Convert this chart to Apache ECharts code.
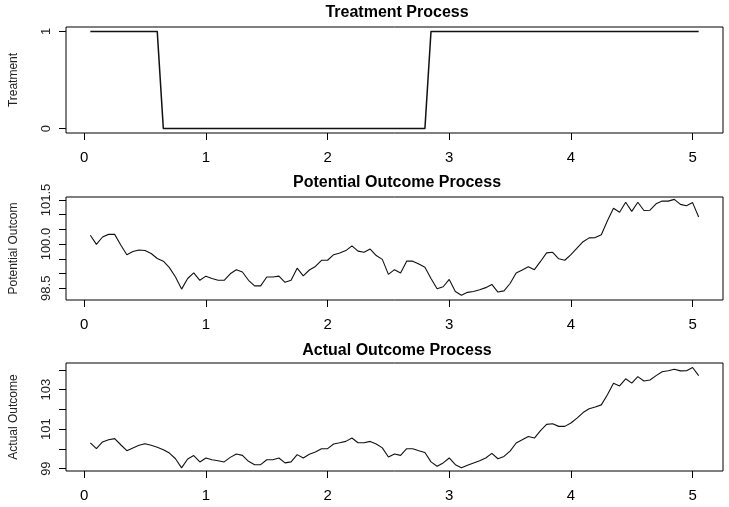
<!DOCTYPE html>
<html>
<head>
<meta charset="utf-8">
<script src="https://cdn.jsdelivr.net/npm/echarts@6/dist/echarts.min.js"></script>
<style>
html,body{margin:0;padding:0;background:#fff;}
#chart{width:729px;height:507px;}
</style>
</head>
<body>
<div id="chart"></div>
<script>
const times = [0.05,0.10,0.15,0.20,0.25,0.30,0.35,0.40,0.45,0.50,0.55,0.60,0.65,0.70,0.75,0.80,0.85,0.90,0.95,1.00,
1.05,1.10,1.15,1.20,1.25,1.30,1.35,1.40,1.45,1.50,1.55,1.60,1.65,1.70,1.75,1.80,1.85,1.90,1.95,2.00,
2.05,2.10,2.15,2.20,2.25,2.30,2.35,2.40,2.45,2.50,2.55,2.60,2.65,2.70,2.75,2.80,2.85,2.90,2.95,3.00,
3.05,3.10,3.15,3.20,3.25,3.30,3.35,3.40,3.45,3.50,3.55,3.60,3.65,3.70,3.75,3.80,3.85,3.90,3.95,4.00,
4.05,4.10,4.15,4.20,4.25,4.30,4.35,4.40,4.45,4.50,4.55,4.60,4.65,4.70,4.75,4.80,4.85,4.90,4.95,5.00,5.05];

const treatment = [1,1,1,1,1,1,1,1,1,1,1,1,0,0,0,0,0,0,0,0,
0,0,0,0,0,0,0,0,0,0,0,0,0,0,0,0,0,0,0,0,
0,0,0,0,0,0,0,0,0,0,0,0,0,0,0,0,1,1,1,1,
1,1,1,1,1,1,1,1,1,1,1,1,1,1,1,1,1,1,1,1,
1,1,1,1,1,1,1,1,1,1,1,1,1,1,1,1,1,1,1,1,1];

const potential = [100.30,99.99,100.24,100.33,100.33,99.97,99.64,99.75,99.80,99.78,99.68,99.51,99.42,99.20,98.88,98.47,98.83,99.02,98.77,98.91,
98.83,98.77,98.77,98.99,99.13,99.05,98.77,98.58,98.58,98.88,98.88,98.91,98.70,98.77,99.18,98.92,99.12,99.24,99.45,99.45,
99.64,99.70,99.78,99.94,99.76,99.72,99.83,99.61,99.48,98.97,99.13,99.02,99.42,99.42,99.32,99.21,98.83,98.48,98.55,98.80,
98.39,98.26,98.36,98.39,98.45,98.52,98.63,98.37,98.41,98.66,99.02,99.12,99.23,99.13,99.41,99.70,99.72,99.50,99.45,99.64,
99.86,100.08,100.21,100.22,100.32,100.79,101.22,101.08,101.42,101.11,101.42,101.14,101.15,101.37,101.46,101.46,101.52,101.35,101.30,101.41,100.92];

const actual = [100.30,100.01,100.35,100.46,100.52,100.21,99.91,100.05,100.18,100.26,100.18,100.08,99.96,99.79,99.50,99.04,99.49,99.66,99.34,99.54,
99.45,99.40,99.34,99.57,99.74,99.67,99.37,99.20,99.20,99.45,99.45,99.54,99.29,99.34,99.71,99.54,99.73,99.84,100.01,100.01,
100.25,100.31,100.38,100.55,100.31,100.31,100.38,100.25,100.05,99.59,99.74,99.67,100.01,100.01,99.91,99.82,99.34,99.12,99.29,99.54,
99.20,99.04,99.17,99.29,99.40,99.54,99.77,99.50,99.62,99.89,100.30,100.46,100.63,100.55,100.92,101.24,101.27,101.14,101.14,101.31,
101.56,101.84,102.03,102.12,102.23,102.74,103.33,103.19,103.55,103.33,103.66,103.44,103.49,103.71,103.91,103.96,104.03,103.95,103.96,104.12,103.71];

const xTicks = [0,1,2,3,4,5];
const treatTicks = [0,1];
const treatLabels = [0,1];
const potTicks = [98.5,99.0,99.5,100.0,100.5,101.0,101.5];
const potLabels = [98.5,100.0,101.5];
const actTicks = [99,100,101,102,103,104];
const actLabels = [99,101,103];

const titles = ['Treatment Process','Potential Outcome Process','Actual Outcome Process'];
const yNames = ['Treatment','Potential Outcom','Actual Outcome'];

const pair = arr => times.map((t,i)=>[t,arr[i]]);

const gridsPos = [
  {top:27, height:106},
  {top:197, height:103},
  {top:363, height:108}
];
const titleTops = [0, 170, 338];
const yRanges = [[-0.045,1.045],[98.1,101.6],[98.88,104.35]];
const yTickSets = [treatTicks, potTicks, actTicks];
const yLabelSets = [treatLabels, potLabels, actLabels];
const yFmt = [v=>String(v), v=>v.toFixed(1), v=>String(v)];
const seriesData = [treatment, potential, actual];

const font = "'Liberation Sans', Arial, sans-serif";
const narrow = "'Liberation Sans Narrow', 'Liberation Sans', Arial, sans-serif";

const option = {
  animation:false,
  backgroundColor:'#fff',
  title: titles.map((t,i)=>({
    text:t, left:392, top:titleTops[i], textAlign:'center',
    textStyle:{fontFamily:narrow, fontWeight:'bold', fontSize:16, color:'#000'}
  })),
  grid: gridsPos.map(g=>({left:62, right:6, top:g.top, height:g.height, show:true, borderColor:'#000', borderWidth:1, backgroundColor:'transparent'})),
  xAxis: [0,1,2].map(i=>({
    type:'value', gridIndex:i, min:-0.15, max:5.25, position:'bottom',
    splitLine:{show:false},
    axisLine:{show:false, onZero:false},
    axisTick:{show:true, length:7, inside:false, customValues:xTicks, lineStyle:{color:'#000'}},
    axisLabel:{show:true, customValues:xTicks, margin:17, color:'#000', fontFamily:narrow, fontSize:15}
  })),
  yAxis: [0,1,2].map(i=>({
    type:'value', gridIndex:i, min:yRanges[i][0], max:yRanges[i][1], position:'left',
    name:yNames[i], nameLocation:'middle', nameRotate:90, nameGap:46,
    nameTextStyle:{fontFamily:font, fontSize:12, color:'#222'},
    splitLine:{show:false},
    axisLine:{show:false, onZero:false},
    axisTick:{show:true, length:7, inside:false, customValues:yTickSets[i], lineStyle:{color:'#000'}},
    axisLabel:{show:true, customValues:yLabelSets[i], rotate:90, margin:13, color:'#222', fontFamily:font, fontSize:13, formatter:yFmt[i]}
  })),
  series: [0,1,2].map(i=>({
    type:'line', xAxisIndex:i, yAxisIndex:i, data:pair(seriesData[i]),
    showSymbol:false, symbol:'none',
    lineStyle:{color:'#111', width:i===0?1.5:1.1},
    silent:true
  }))
};

const chart = echarts.init(document.getElementById('chart'), null, {renderer:'canvas'});
chart.setOption(option);
</script>
</body>
</html>
